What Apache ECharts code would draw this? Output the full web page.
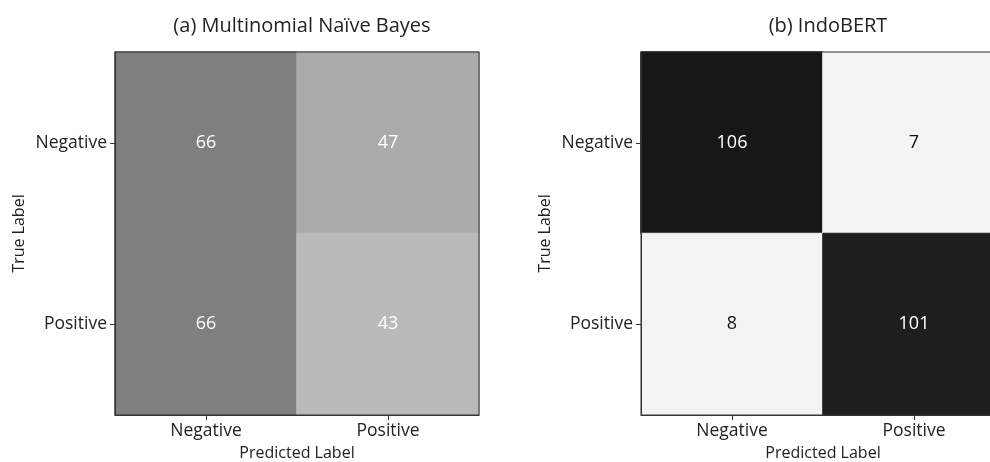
<!DOCTYPE html>
<html>
<head>
<meta charset="utf-8">
<script src="https://cdn.jsdelivr.net/npm/echarts@6/dist/echarts.min.js"></script>
<style>
  html, body { margin: 0; padding: 0; background: #fff; }
  #chart { width: 990px; height: 462px; }
</style>
</head>
<body>
<div id="chart"></div>
<script>
// Confusion matrices for two sentiment classifiers
const classLabels = ['Negative', 'Positive'];
const panelTitles = ['(a) Multinomial Naïve Bayes', '(b) IndoBERT'];

// rows = true label, columns = predicted label
const naiveBayesMatrix = [
  [66, 47],
  [66, 43]
];
const indoBertMatrix = [
  [106, 7],
  [8, 101]
];

// cell shading (grey level per cell, same layout as the matrices)
const naiveBayesShades = [
  ['#7f7f7f', '#ababab'],
  ['#7f7f7f', '#bababa']
];
const indoBertShades = [
  ['#171717', '#f4f4f4'],
  ['#f3f3f3', '#1e1e1e']
];
const naiveBayesTextColors = [
  ['#ffffff', '#ffffff'],
  ['#ffffff', '#ffffff']
];
const indoBertTextColors = [
  ['#ffffff', '#111111'],
  ['#111111', '#ffffff']
];

const FONT = 'Open Sans';

function cells(matrix, shades, textColors) {
  const out = [];
  for (let r = 0; r < matrix.length; r++) {
    for (let c = 0; c < matrix[r].length; c++) {
      out.push({
        value: [c, r, matrix[r][c]],
        itemStyle: { color: shades[r][c], borderColor: shades[r][c], borderWidth: 1 },
        label: { color: textColors[r][c] }
      });
    }
  }
  return out;
}

// second panel runs slightly past the right edge of the canvas
const grids = [
  { left: 115, top: 52, width: 364, height: 363 },
  { left: 641, top: 52, width: 364, height: 363 }
];

function xAxis(i) {
  return {
    type: 'category', gridIndex: i, data: classLabels, z: 10,
    name: 'Predicted Label', nameLocation: 'middle', nameGap: 30, nameMoveOverlap: false,
    nameTextStyle: { fontFamily: FONT, fontSize: 16, color: '#222' },
    axisLine: { show: true, lineStyle: { color: '#333', width: 1 } },
    axisTick: { show: true, alignWithLabel: true, length: 5, lineStyle: { color: '#333' } },
    axisLabel: { fontFamily: FONT, fontSize: 17.5, color: '#222', margin: 7 },
    splitArea: { show: false }, splitLine: { show: false }
  };
}
function yAxis(i) {
  return {
    type: 'category', gridIndex: i, data: classLabels, inverse: true, z: 10,
    name: 'True Label', nameLocation: 'middle', nameGap: 88, nameRotate: 90, nameMoveOverlap: false,
    nameTextStyle: { fontFamily: FONT, fontSize: 16, color: '#222' },
    axisLine: { show: true, lineStyle: { color: '#333', width: 1 } },
    axisTick: { show: true, alignWithLabel: true, length: 5, lineStyle: { color: '#333' } },
    axisLabel: { fontFamily: FONT, fontSize: 17.5, color: '#222', margin: 8 },
    splitArea: { show: false }, splitLine: { show: false }
  };
}

const chart = echarts.init(document.getElementById('chart'), null, { renderer: 'canvas' });
chart.setOption({
  animation: false,
  backgroundColor: '#ffffff',
  title: panelTitles.map((t, i) => ({
    text: t,
    left: grids[i].left + grids[i].width / 2,
    top: 11,
    textAlign: 'center',
    textStyle: { fontFamily: FONT, fontSize: 20, fontWeight: 'normal', color: '#222' }
  })),
  // frame drawn above the cells so its edge stays dark
  grid: grids.map(g => Object.assign({
    show: true, borderColor: '#333', borderWidth: 1, backgroundColor: 'transparent',
    outerBoundsMode: 'none', containLabel: false, z: 10
  }, g)),
  xAxis: [xAxis(0), xAxis(1)],
  yAxis: [yAxis(0), yAxis(1)],
  series: [
    {
      type: 'heatmap', xAxisIndex: 0, yAxisIndex: 0,
      data: cells(naiveBayesMatrix, naiveBayesShades, naiveBayesTextColors),
      label: { show: true, fontFamily: FONT, fontSize: 18, formatter: p => p.value[2] },
      emphasis: { disabled: true }
    },
    {
      type: 'heatmap', xAxisIndex: 1, yAxisIndex: 1,
      data: cells(indoBertMatrix, indoBertShades, indoBertTextColors),
      label: { show: true, fontFamily: FONT, fontSize: 18, formatter: p => p.value[2] },
      emphasis: { disabled: true }
    }
  ]
});
</script>
</body>
</html>
